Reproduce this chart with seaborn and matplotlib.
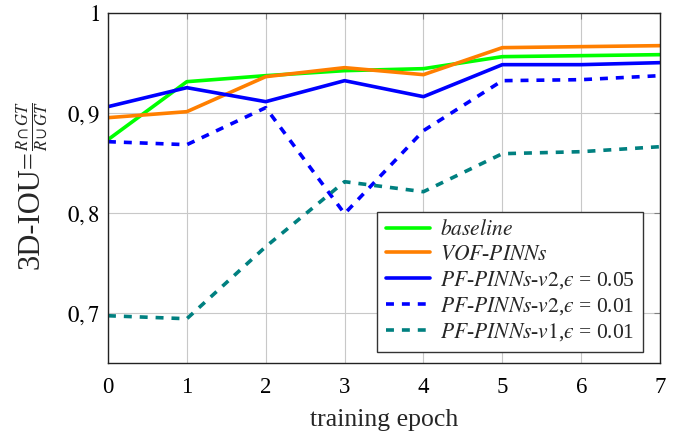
import matplotlib
matplotlib.use("Agg")
import matplotlib.pyplot as plt
import seaborn as sns
import pandas as pd

epochs = [0, 1, 2, 3, 4, 5, 6, 7]
baseline = [0.873, 0.931, 0.937, 0.942, 0.944, 0.956, 0.957, 0.958]
vof_pinns = [0.895, 0.901, 0.936, 0.945, 0.938, 0.965, 0.966, 0.967]
pf_v2_005 = [0.906, 0.925, 0.911, 0.932, 0.916, 0.948, 0.948, 0.950]
pf_v2_001 = [0.871, 0.868, 0.905, 0.799, 0.882, 0.932, 0.933, 0.937]
pf_v1_001 = [0.697, 0.694, 0.766, 0.831, 0.821, 0.859, 0.861, 0.866]

EPS = "$\u03f5$"
series_labels = [
    r"$\mathit{baseline}$",
    r"$\mathit{VOF}$-$\mathit{PINNs}$",
    r"$\mathit{PF}$-$\mathit{PINNs}$-$\mathit{v2}$," + EPS + " = 0.05",
    r"$\mathit{PF}$-$\mathit{PINNs}$-$\mathit{v2}$," + EPS + " = 0.01",
    r"$\mathit{PF}$-$\mathit{PINNs}$-$\mathit{v1}$," + EPS + " = 0.01",
]
y_ticks = [0.7, 0.8, 0.9, 1.0]
y_tick_labels = ["$0,7$", "$0,8$", "$0,9$", "$1$"]

sns.set_theme(style="whitegrid")
plt.rcParams["font.family"] = ["Liberation Serif", "DejaVu Serif"]
plt.rcParams["mathtext.fontset"] = "stix"

fig = plt.figure(figsize=(6.89, 4.36), dpi=100)
ax = fig.add_axes([0.1567, 0.168, 0.8013, 0.803])

dash = (0, (2.2, 2.2))
styles = [
    ("#00ff00", "-"),
    ("#ff7f00", "-"),
    ("#0000ff", "-"),
    ("#0000ff", dash),
    ("#008080", dash),
]
data = [baseline, vof_pinns, pf_v2_005, pf_v2_001, pf_v1_001]

for values, label, (color, ls) in zip(data, series_labels, styles):
    df = pd.DataFrame({"epoch": epochs, "iou": values})
    sns.lineplot(data=df, x="epoch", y="iou", ax=ax, color=color,
                 linestyle=ls, linewidth=2.6, label=label)

ax.set_xlim(0, 7)
ax.set_ylim(0.65, 1.0)
ax.set_xticks(epochs)
ax.set_xticklabels([str(e) for e in epochs])
ax.set_yticks(y_ticks)
ax.set_yticklabels(y_tick_labels)
ax.tick_params(axis="both", labelsize=16.5, colors="black", direction="in",
               length=4, width=0.8, top=True, right=True)
ax.tick_params(axis="x", pad=10)
ax.tick_params(axis="y", pad=6)
for t in ax.xaxis.get_ticklines() + ax.yaxis.get_ticklines():
    t.set_markeredgecolor("#808080")

ax.grid(True, color="#c8c8c8", linewidth=0.8)
for s in ax.spines.values():
    s.set_color("#222222")
    s.set_linewidth(1.0)

ax.set_xlabel("training epoch", fontsize=18.5, labelpad=8)
ax.set_ylabel("")
# y-axis title: full-size text followed by a smaller inline fraction
ax.text(-0.1395, 0.437, "3D-IOU=", transform=ax.transAxes, rotation=90,
        ha="center", va="center", fontsize=22)
ax.text(-0.138, 0.677, r"$\frac{R\cap GT}{R\cup GT}$", transform=ax.transAxes,
        rotation=90, ha="center", va="center", fontsize=17)

leg = ax.legend(loc="lower right", bbox_to_anchor=(0.969, 0.031),
                borderaxespad=0, fontsize=15.5, handlelength=2.05,
                labelspacing=0.2, fancybox=False, framealpha=1,
                edgecolor="#333333", borderpad=0.4, handletextpad=0.45)
leg.get_frame().set_linewidth(1.0)

fig.savefig("out.png", dpi=100)
